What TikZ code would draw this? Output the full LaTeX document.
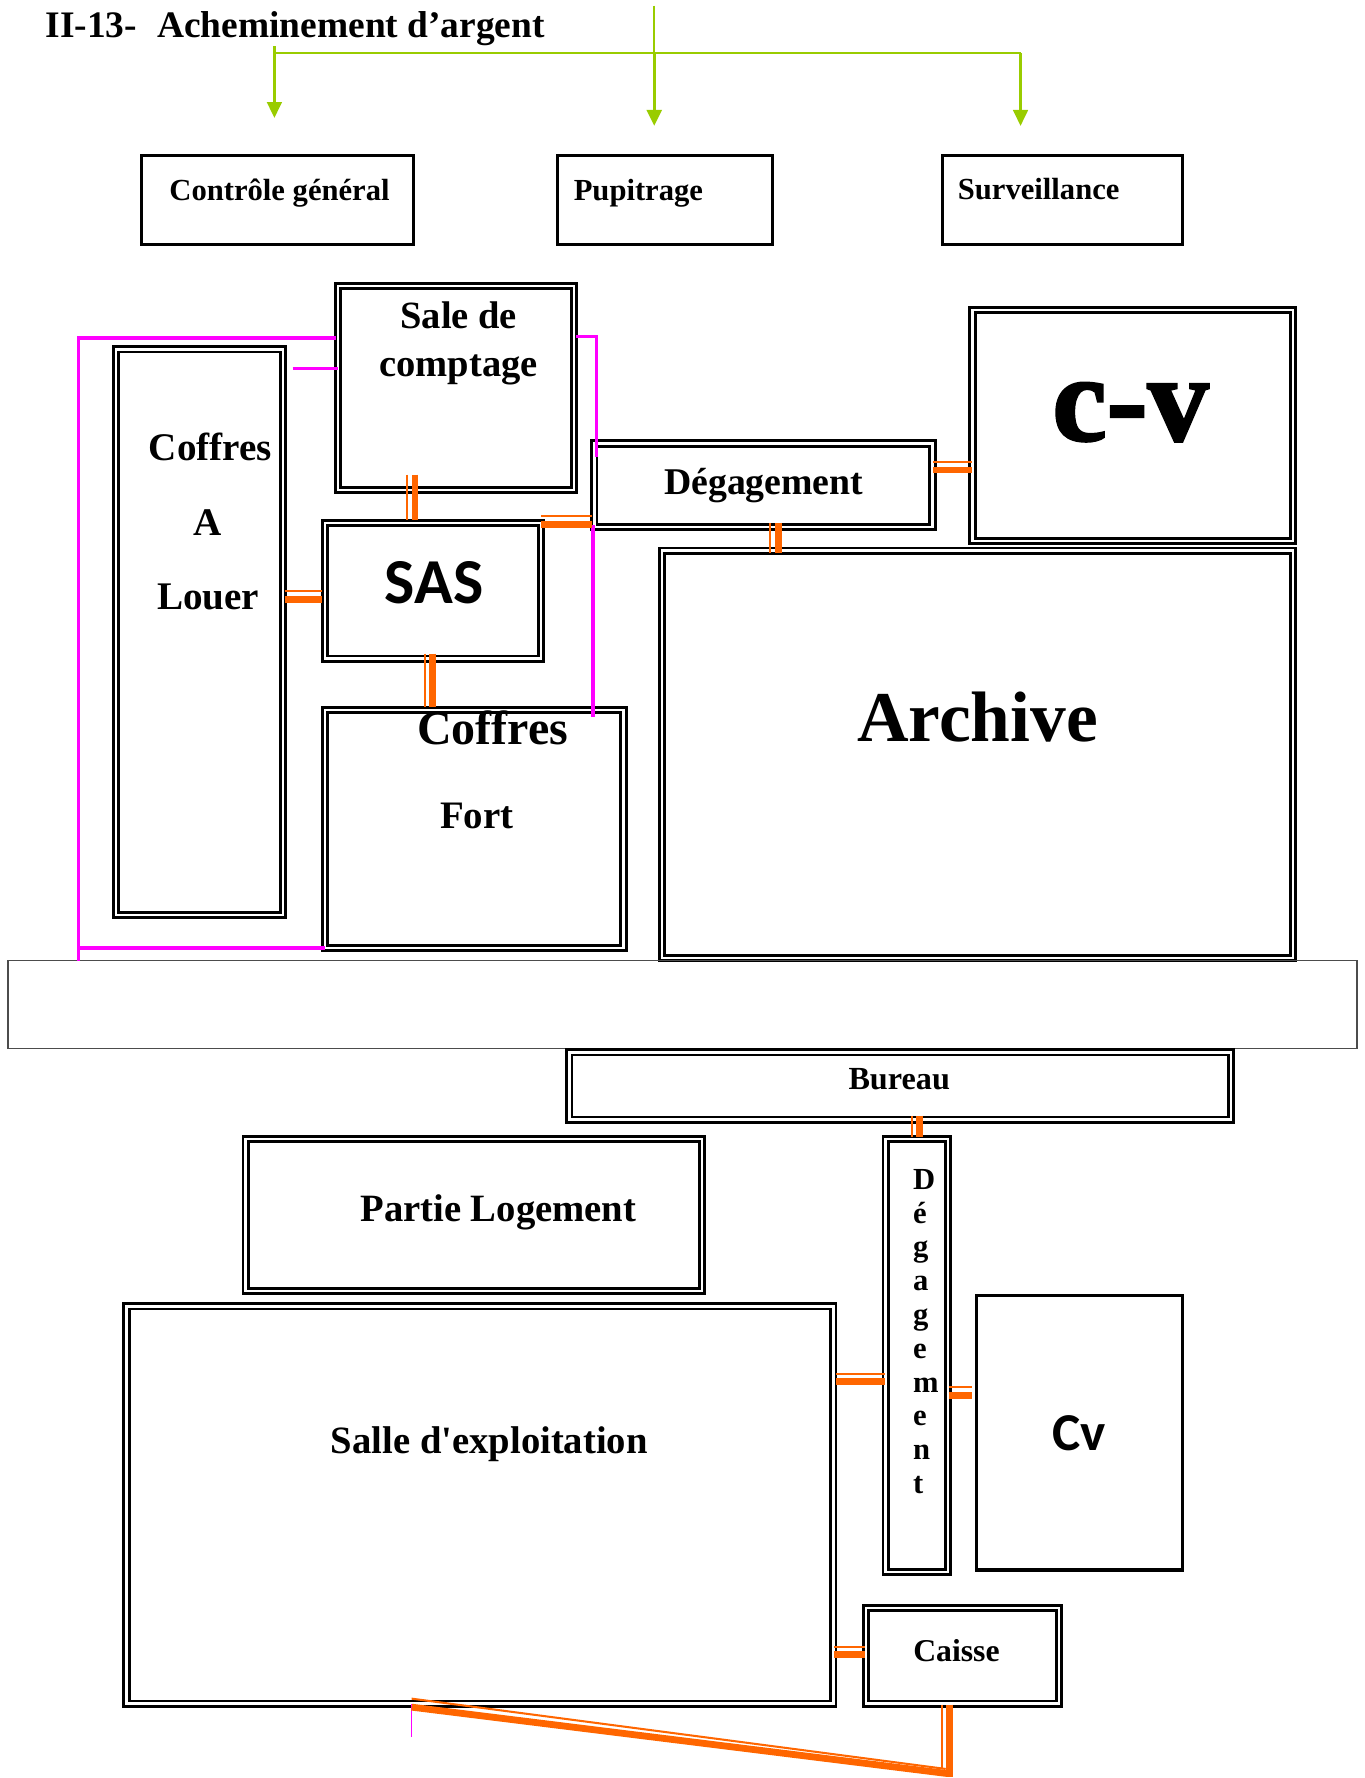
\documentclass[tikz,border=0pt]{standalone}
\usepackage{fontspec}
\setmainfont{Liberation Serif}
\newfontfamily\calib{Carlito}
\newfontfamily\rawserif{Liberation Serif}
\newfontfamily\heavyserif[FakeBold=2]{Liberation Serif Bold}
\usetikzlibrary{calc,arrows.meta}
\definecolor{oline}{HTML}{FF6600}
\definecolor{mline}{HTML}{FF00FF}
\definecolor{gline}{HTML}{99CC00}
\tikzset{
  room/.style={draw=black,double=white,line width=2.5pt,double distance=2.2pt,inner sep=0pt,outer sep=0pt,anchor=north west},
  plainroom/.style={draw=black,line width=2.8pt,inner sep=0pt,outer sep=0pt,anchor=north west},
  hall/.style={draw=black!70,line width=1.4pt,inner sep=0pt,outer sep=0pt,anchor=north west},
  lab/.style={font=\bfseries,inner sep=0pt,anchor=center},
  magenta line/.style={draw=mline,line width=2.8pt},
  green line/.style={draw=gline,line width=2pt},
  green arrow/.style={draw=gline,line width=2pt,-{Triangle[length=14pt,width=13pt,fill=gline]}},
  thick part/.style={draw=oline,line width=6pt},
  thin part/.style={draw=oline,line width=1.8pt},
}
% \boxnode{style}{inset}{name}{x1}{y1}{x2}{y2}: outer edges, inset for the stroke
\newcommand\boxnode[7]{%
  \pgfmathsetmacro\rw{#6-#4-2*#2}%
  \pgfmathsetmacro\rh{#7-#5-2*#2}%
  \node[#1,minimum width=\rw pt,minimum height=\rh pt] (#3) at (#4+#2,#5+#2) {};}
\newcommand\roomnode[5]{\boxnode{room}{3.1}{#1}{#2}{#3}{#4}{#5}}
\newcommand\plainnode[5]{\boxnode{plainroom}{0.9}{#1}{#2}{#3}{#4}{#5}}
% vertical link at x between node anchors, overruns in pt at either end
\newcommand\vlink[5]{%
  \coordinate (lk) at (#1,0);
  \draw[thin part,transform canvas={xshift=-4.6pt},shorten <=-(#4)*1pt,shorten >=-(#5)*1pt] (lk |- #2) -- (lk |- #3);
  \draw[thick part,transform canvas={xshift=2.4pt},shorten <=-(#4)*1pt,shorten >=-(#5)*1pt] (lk |- #2) -- (lk |- #3);}
\newcommand\hlink[5]{%
  \coordinate (lk) at (0,#1);
  \draw[thin part,transform canvas={yshift=4.6pt},shorten <=-(#4)*1pt,shorten >=-(#5)*1pt] (lk -| #2) -- (lk -| #3);
  \draw[thick part,transform canvas={yshift=-2.4pt},shorten <=-(#4)*1pt,shorten >=-(#5)*1pt] (lk -| #2) -- (lk -| #3);}
\begin{document}
\begin{tikzpicture}[x=1pt,y=-1pt]
\useasboundingbox (0,0) rectangle (1203,1568);
% rooms
\plainnode{ctrl}{124}{136}{365.5}{216.5}
\plainnode{pup}{491}{136}{682.5}{216.5}
\plainnode{surv}{830.5}{136}{1043.5}{216.5}
\roomnode{sale}{295}{249}{509.5}{435}
\roomnode{louer}{99}{305}{252.5}{810}
\roomnode{sas}{283.5}{458}{480}{584}
\roomnode{fort}{283.5}{623}{553}{839}
\roomnode{degh}{521}{388}{825.5}{468}
\roomnode{cvbig}{854.5}{270.5}{1143.5}{480}
\roomnode{arch}{580.5}{482.5}{1143.5}{848}
\boxnode{hall}{0.7}{hallway}{6.5}{846.5}{1197.5}{925.5}
\roomnode{bur}{499}{925}{1088.5}{990.5}
\roomnode{logt}{213.5}{1001.5}{622}{1141.5}
\roomnode{degv}{778}{1001.5}{839}{1389.5}
\roomnode{exploit}{108.5}{1149}{738}{1505.5}
\plainnode{cvsmall}{860.5}{1141.5}{1044}{1385.5}
\roomnode{caisse}{760.5}{1415}{937}{1505.5}
% labels
\node[lab,anchor=west,font=\bfseries\fontsize{33}{36}\selectfont] (title) at (40,25) {II-13-\hspace{.54em}Acheminement d’argent};
\node[lab,font=\bfseries\fontsize{27}{30}\selectfont] (lctrl) at (246.5,170) {Contrôle général};
\node[lab,font=\bfseries\fontsize{27}{30}\selectfont] (lpup) at (563,170) {Pupitrage};
\node[lab,font=\bfseries\fontsize{27}{30}\selectfont] (lsurv) at (916,167) {Surveillance};
\node[lab,font=\bfseries\fontsize{34}{42.5}\selectfont,align=center] (lsale) at (404.5,303) {Sale de\\comptage};
\node[lab,font=\bfseries\fontsize{34.5}{65.5}\selectfont,align=center] (llouer) at (183.5,460) {\hspace{4pt}Coffres\\A\\Louer};
\node[lab,font=\calib\bfseries\fontsize{56.5}{60}\selectfont] (lsas) at (383,514) {SAS};
\node[lab,font=\bfseries\fontsize{42.3}{48}\selectfont] (lfort1) at (434.5,642) {Coffres};
\node[lab,font=\bfseries\fontsize{34.3}{40}\selectfont] (lfort2) at (420.5,720) {Fort};
\node[lab,font=\bfseries\fontsize{33.3}{38}\selectfont] (ldegh) at (673.5,428) {Dégagement};
\node[lab,font=\heavyserif\fontsize{108}{116}\selectfont] (lcv) at (997,363.5) {c-v};
\node[lab,font=\bfseries\fontsize{63}{70}\selectfont] (larch) at (862,632) {Archive};
\node[lab,font=\bfseries\fontsize{28.4}{32}\selectfont] (lbur) at (793,952) {Bureau};
\node[lab,font=\bfseries\fontsize{34.1}{40}\selectfont] (llogt) at (439.5,1069) {Partie Logement};
\node[lab,font=\bfseries\fontsize{34.1}{40}\selectfont] (lexpl) at (431.5,1274) {Salle d{\rawserif\bfseries '}exploitation};
\node[lab,font=\bfseries\fontsize{28}{32}\selectfont] (lcaisse) at (843.5,1456) {Caisse};
\node[lab,font=\calib\bfseries\fontsize{47}{52}\selectfont] (lcv2) at (952,1264) {Cv};
\node[lab,font=\bfseries\fontsize{27}{29.8}\selectfont,align=left,anchor=north west] (ldegv) at (805,1031) {D\\é\\g\\a\\g\\e\\m\\e\\n\\t};
% magenta lines
\coordinate (mTL) at (69,298);
\coordinate (mTR) at (526,297);
\coordinate (mEnd) at (526,403);
\coordinate (mStub) at (258,325);
\coordinate (mLow) at (0,836);
\coordinate (mHall) at (69,0);
\draw[magenta line,line join=miter] (mHall |- hallway.north) -- (mTL) -- ([xshift=-2pt]mTL -| sale.west);
\draw[magenta line] (mHall |- mLow) -- (mLow -| fort.west);
\draw[magenta line] (mStub) -- (mStub -| sale.west);
\draw[magenta line] ([xshift=2pt]sale.east |- mTR) -- (mTR) -- (mEnd);
\coordinate (mSasTop) at (523,463);
\coordinate (mSasEnd) at (523,632);
\draw[magenta line,line width=3.2pt] (mSasTop) -- (mSasEnd);
\coordinate (mLowA) at (363,1503);
\coordinate (mLowB) at (363,1532);
\draw[draw=mline,line width=1.1pt] (mLowA) -- (mLowB);
% green distribution
\coordinate (gTop) at (577,5);
\coordinate (gL) at (242,47);
\coordinate (gM) at (577,47);
\coordinate (gR) at (900,47);
\coordinate (gLs) at (242,41);
\coordinate (gLe) at (242,104);
\coordinate (gMe) at (577,111);
\coordinate (gRe) at (900,111);
\draw[green line] (gL) -- (gR);
\draw[green line] (gTop) -- (gM);
\draw[green arrow] (gLs) -- (gLe);
\draw[green arrow,line width=2.6pt] (gM) -- (gMe);
\draw[green arrow] (gR) -- (gRe);
% orange links
\vlink{363.5}{sale.south}{sas.north}{13.4}{-2.6}
\vlink{379.3}{sas.south}{fort.north}{4.4}{-2.6}
\hlink{526}{louer.east}{sas.west}{-1.6}{-2.6}
\hlink{460}{sas.east}{degh.west}{-0.6}{-1.6}
\hlink{412}{degh.east}{cvbig.west}{-0.6}{0}
\vlink{684}{degh.south}{arch.north}{3.4}{2.4}
\vlink{808.6}{bur.south}{degv.north}{3.4}{-1.6}
\hlink{1216}{exploit.east}{degv.west}{-2.6}{-0.6}
\hlink{1228}{degv.east}{cvsmall.west}{-0.6}{-4.3}
\hlink{1457}{exploit.east}{caisse.west}{-0.6}{-0.6}
% long slanted link from the hall to the cash desk
\coordinate (sA) at (363,1505.5);
\coordinate (sB) at (835,1564);
\coordinate (sAt) at (363,1498);
\coordinate (sBt) at (834,1560);
\draw[thick part] (sA) -- (sB);
\draw[thin part] (sAt) -- (sBt);
\coordinate (sV) at (836,0);
\draw[thick part,transform canvas={xshift=1.5pt},shorten <=1pt,shorten >=-3pt] (sV |- caisse.south) -- (sV |- sB);
\draw[thin part,transform canvas={xshift=-5pt},shorten <=1pt] (sV |- caisse.south) -- (sV |- sBt);
\end{tikzpicture}
\end{document}
